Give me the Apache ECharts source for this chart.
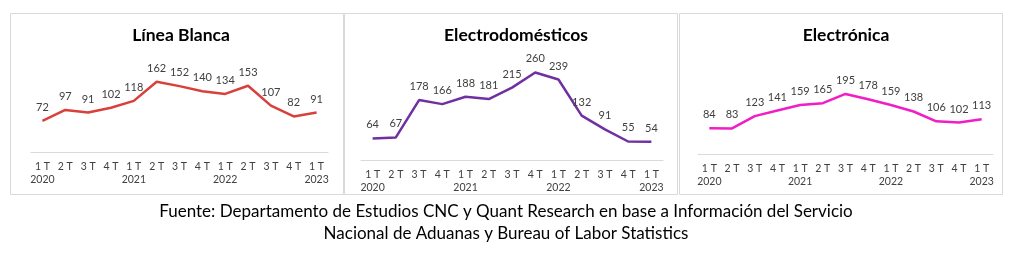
<!DOCTYPE html>
<html>
<head>
<meta charset="utf-8">
<script src="https://cdn.jsdelivr.net/npm/echarts@6/dist/echarts.min.js"></script>
<style>
html,body{margin:0;padding:0;background:#fff;}
#c{width:1024px;height:262px;}
</style>
</head>
<body>
<div id="c"></div>
<script>
const quarters = ['1 T','2 T','3 T','4 T','1 T','2 T','3 T','4 T','1 T','2 T','3 T','4 T','1 T'];
const years = ['2020','','','','2021','','','','2022','','','','2023'];
const titles = ['Línea Blanca','Electrodomésticos','Electrónica'];
const lineaBlanca = [72,97,91,102,118,162,152,140,134,153,107,82,91];
const electrodomesticos = [64,67,178,166,188,181,215,260,239,132,91,55,54];
const electronica = [84,83,123,141,159,165,195,178,159,138,106,102,113];
const sourceText = 'Fuente: Departamento de Estudios CNC y Quant Research en base a Información del Servicio\nNacional de Aduanas y Bureau of Labor Statistics';

const seriesData = [lineaBlanca, electrodomesticos, electronica];
const colors = ['#D9403B','#7030A0','#F01EC4'];
const grids = [
  {left:31, width:297, top:74, height:78},
  {left:361, width:302, top:59, height:101},
  {left:698, width:295, top:77, height:77}
];
const yMax = [180,300,250];
const titleX = [176, 511, 841];
const panels = [[10,13,333,181],[344,13,333,181],[679,13,323,181]];

const FONT = 'Lato, "Open Sans", sans-serif';
const chart = echarts.init(document.getElementById('c'));
chart.setOption({
  animation:false,
  textStyle:{fontFamily:FONT},
  graphic: panels.map(p => ({
    type:'rect', shape:{x:p[0]+0.5,y:p[1]+0.5,width:p[2],height:p[3]},
    style:{fill:'none',stroke:'#D9D9D9',lineWidth:1}, silent:true, z:-10
  })).concat([{
    type:'text', x:506, y:201,
    style:{text:sourceText, fontFamily:FONT, fontSize:17, fill:'#000', align:'center', verticalAlign:'top', lineHeight:22}
  }]),
  title: titles.map((t,i) => ({
    text:t, left:titleX[i], top:21, textAlign:'center',
    textStyle:{fontFamily:FONT, fontSize:17.5, fontWeight:'bold', color:'#000'}
  })),
  grid: grids,
  xAxis: grids.map((g,i) => ({
    type:'category', gridIndex:i, data:quarters, boundaryGap:true,
    axisLine:{lineStyle:{color:'#D9D9D9',width:1}},
    axisTick:{show:false},
    axisLabel:{interval:0, margin:8, fontSize:10.5, color:'#404040', lineHeight:13, fontFamily:FONT,
      formatter:(v,idx) => v + '\n' + (years[idx] || ' ')}
  })),
  yAxis: grids.map((g,i) => ({
    type:'value', gridIndex:i, min:0, max:yMax[i], show:false, splitLine:{show:false}
  })),
  series: seriesData.map((d,i) => ({
    type:'line', xAxisIndex:i, yAxisIndex:i, data:d, symbol:'circle', symbolSize:0.1, showSymbol:true,
    itemStyle:{color:colors[i]},
    lineStyle:{color:colors[i], width:2.5},
    label:{show:true, position:'top', distance:8, fontSize:11, color:'#404040', fontFamily:FONT}
  }))
});
</script>
</body>
</html>
